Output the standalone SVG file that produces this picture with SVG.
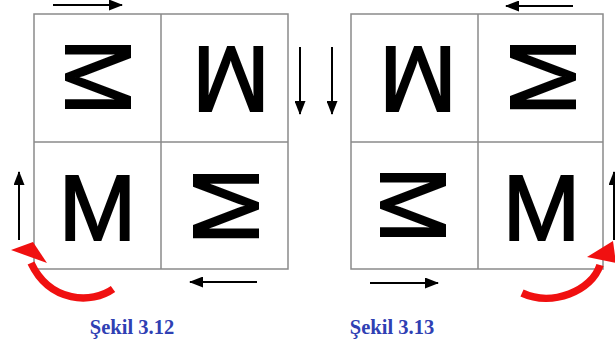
<svg xmlns="http://www.w3.org/2000/svg" width="615" height="348" viewBox="0 0 615 348">
<style>
.grid{fill:none;stroke:#8a8a8a;stroke-width:1.5}
.m{font-family:"Liberation Sans",Arial,sans-serif;font-size:93px;fill:#000;stroke:#000;stroke-width:2;stroke-linejoin:miter;text-anchor:middle}
.arr{stroke:#000;stroke-width:2;fill:none;marker-end:url(#ah)}
.red{stroke:#f01010;stroke-width:7.5;fill:none;stroke-linecap:butt}
.redh{fill:#f01010}
.cap{font-family:"Liberation Serif","Times New Roman",serif;font-size:20.5px;font-weight:bold;fill:#2f40b3;text-anchor:middle}
</style>
<defs>
<marker id="ah" viewBox="0 0 14 11" refX="13" refY="5.5" markerWidth="14" markerHeight="11" markerUnits="userSpaceOnUse" orient="auto">
<path d="M0,0 L14,5.5 L0,11 z" fill="#000"/>
</marker>
</defs>
<g id="fig312">
<g id="grid312">
<rect class="grid" x="34" y="14" width="254" height="255"/>
<line class="grid" x1="161" y1="14" x2="161" y2="269"/>
<line class="grid" x1="34" y1="142" x2="288" y2="142"/>
</g>
<g id="n312_tl"><text class="m" x="99.5" y="110.5" transform="rotate(90 99.5 77)">M</text></g>
<g id="n312_tr"><text class="m" x="231" y="113.5" transform="rotate(180 231 80)">M</text></g>
<g id="n312_bl"><text class="m" x="97.5" y="239.5">M</text></g>
<g id="n312_br"><text class="m" x="224" y="239.5" transform="rotate(-90 224 206)">M</text></g>
</g>
<g id="fig313">
<g id="grid313">
<rect class="grid" x="351" y="14" width="252" height="255"/>
<line class="grid" x1="478" y1="14" x2="478" y2="269"/>
<line class="grid" x1="351" y1="142" x2="603" y2="142"/>
</g>
<g id="n313_tl"><text class="m" x="418" y="113.5" transform="rotate(180 418 80)">M</text></g>
<g id="n313_tr"><text class="m" x="541" y="110.5" transform="rotate(-90 541 77)">M</text></g>
<g id="n313_bl"><text class="m" x="414.5" y="238.5" transform="rotate(90 414.5 205)">M</text></g>
<g id="n313_br"><text class="m" x="541.5" y="239.5">M</text></g>
</g>
<g id="connectors">
<line class="arr" x1="53" y1="5" x2="122" y2="5"/>
<line class="arr" x1="300" y1="47" x2="300" y2="114"/>
<line class="arr" x1="257" y1="282" x2="190" y2="282"/>
<line class="arr" x1="19" y1="240" x2="19" y2="172"/>
<line class="arr" x1="573" y1="6" x2="506" y2="6"/>
<line class="arr" x1="332" y1="47" x2="332" y2="114"/>
<line class="arr" x1="370" y1="283" x2="438" y2="283"/>
<line class="arr" x1="614" y1="240" x2="614" y2="172"/>
<path class="red" d="M113 289 C92 304 50 303 31 263"/>
<polygon class="redh" points="11,250 33,242 47,263"/>
<path class="red" d="M522 293 C552 307 592 291 600 265"/>
<polygon class="redh" points="613,241 587,257 616,263"/>
</g>
<g id="captions">
<text class="cap" x="132" y="334">Şekil 3.12</text>
<text class="cap" x="392" y="334">Şekil 3.13</text>
</g>
</svg>
